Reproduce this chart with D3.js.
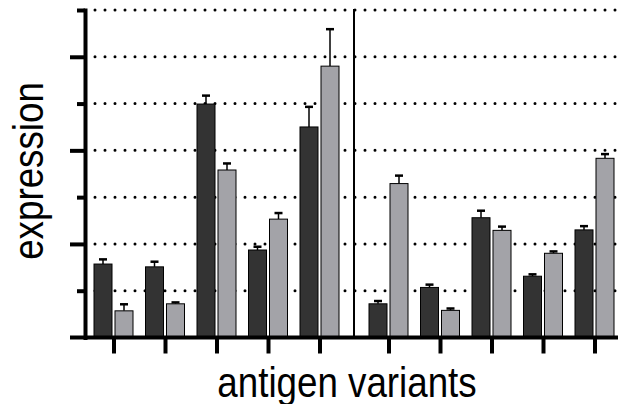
<!DOCTYPE html>
<html>
<head>
<meta charset="utf-8">
<script src="https://cdn.jsdelivr.net/npm/d3@7"></script>
<style>
    body { margin: 0; background: white; }
    svg { display: block; font-family: "Liberation Sans", Arial, sans-serif; }
</style>
</head>
<body>
<div id="chart"></div>
<script>
// Data (two panels, five variants each, two series).
const groups = ['panelA', 'panelB']
const variants = ['v1', 'v2', 'v3', 'v4', 'v5']
const series = ['dark', 'light']

const darkA = [1.57, 1.51, 4.99, 1.87, 4.50]
const darkAErr = [0.10, 0.11, 0.18, 0.07, 0.43]
const lightA = [0.57, 0.72, 3.58, 2.53, 5.80]
const lightAErr = [0.14, 0.03, 0.14, 0.13, 0.79]

const darkB = [0.72, 1.07, 2.56, 1.31, 2.30]
const darkBErr = [0.06, 0.06, 0.15, 0.04, 0.08]
const lightB = [3.29, 0.58, 2.29, 1.80, 3.83]
const lightBErr = [0.17, 0.04, 0.08, 0.04, 0.09]

const yTicks = [1, 2, 3, 4, 5, 6, 7]

class GroupedBarChart {
    constructor(_config) {
        this.config = {
            parentElement: _config.parentElement,
            containerWidth: _config.containerWidth,
            containerHeight: _config.containerHeight,
            axisX: 85,
            baseY: 337.5,
            topY: 10,
            panelRanges: [[113.5, 319.5], [388.5, 594.5]],
            barHalf: 19.5,
            colors: {dark: '#333333', light: '#a3a3a8'}
        }
        this.initVis()
    }

    initVis() {
        let vis = this
        const c = vis.config

        vis.svg = d3.select(c.parentElement)
            .append('svg')
            .attr('width', c.containerWidth)
            .attr('height', c.containerHeight)

        vis.y = d3.scaleLinear().domain([0, 7]).range([c.baseY, c.topY])

        // One point scale per panel, so there is a gap between the two panels.
        vis.xPanel = {}
        groups.forEach((g, i) => {
            vis.xPanel[g] = d3.scalePoint().domain(variants).range(c.panelRanges[i])
        })
        vis.xSub = d3.scaleBand().domain(series).range([-c.barHalf, c.barHalf]).paddingInner(3 / 21)

        vis.rows = []
        const table = {
            panelA: {dark: [darkA, darkAErr], light: [lightA, lightAErr]},
            panelB: {dark: [darkB, darkBErr], light: [lightB, lightBErr]}
        }
        groups.forEach(g => {
            variants.forEach((v, i) => {
                series.forEach(s => {
                    vis.rows.push({group: g, variant: v, series: s,
                        value: table[g][s][0][i], err: table[g][s][1][i]})
                })
            })
        })

        vis.renderVis()
    }

    renderVis() {
        let vis = this
        const c = vis.config
        const xOf = d => vis.xPanel[d.group](d.variant) + vis.xSub(d.series)

        // Dotted grid lines behind the bars.
        vis.svg.append('g')
            .selectAll('line')
            .data(yTicks)
            .join('line')
            .attr('x1', 95)
            .attr('x2', c.containerWidth + 10)
            .attr('y1', d => vis.y(d))
            .attr('y2', d => vis.y(d))
            .attr('stroke', 'black')
            .attr('stroke-width', 3)
            .attr('stroke-linecap', 'round')
            .attr('stroke-dasharray', '0 10')

        // Separator between the two panels.
        const sepX = (vis.xPanel.panelA.range()[1] + vis.xPanel.panelB.range()[0]) / 2
        vis.svg.append('line')
            .attr('x1', sepX).attr('x2', sepX)
            .attr('y1', vis.y(7) - 1).attr('y2', vis.y(0))
            .attr('stroke', 'black')
            .attr('stroke-width', 2)

        // Error bars (upper only).
        const err = vis.svg.append('g')
            .selectAll('g')
            .data(vis.rows)
            .join('g')
            .attr('transform', d => `translate(${xOf(d) + vis.xSub.bandwidth() / 2},0)`)
        err.append('line')
            .attr('y1', d => vis.y(d.value))
            .attr('y2', d => vis.y(d.value + d.err))
            .attr('stroke', 'black')
            .attr('stroke-width', 1.5)
        err.append('line')
            .attr('x1', -4).attr('x2', 4)
            .attr('y1', d => vis.y(d.value + d.err))
            .attr('y2', d => vis.y(d.value + d.err))
            .attr('stroke', 'black')
            .attr('stroke-width', 2.5)

        // Bars.
        vis.svg.append('g')
            .selectAll('rect')
            .data(vis.rows)
            .join('rect')
            .attr('x', d => xOf(d))
            .attr('width', vis.xSub.bandwidth())
            .attr('y', d => vis.y(d.value))
            .attr('height', d => vis.y(0) - vis.y(d.value))
            .attr('fill', d => c.colors[d.series])
            .attr('stroke', 'black')
            .attr('stroke-width', 1)

        // Y axis: long ticks on even values, short ones on odd values.
        const yAxis = vis.svg.append('g')
            .attr('transform', `translate(${c.axisX},0)`)
            .call(d3.axisLeft(vis.y).tickValues(yTicks).tickSize(15).tickSizeOuter(0).tickFormat(''))
        yAxis.select('.domain')
            .attr('stroke-width', 4)
            .attr('stroke-linecap', 'square')
        yAxis.selectAll('.tick line')
            .attr('stroke-width', 4)
            .attr('x2', d => d % 2 === 0 ? -15 : -8)

        // X axis baseline, running past the y axis on the left.
        vis.svg.append('line')
            .attr('x1', 70).attr('x2', c.containerWidth)
            .attr('y1', vis.y(0)).attr('y2', vis.y(0))
            .attr('stroke', 'black')
            .attr('stroke-width', 4)

        groups.forEach(g => {
            const xAxis = vis.svg.append('g')
                .attr('transform', `translate(0,${vis.y(0)})`)
                .call(d3.axisBottom(vis.xPanel[g]).tickSize(16).tickSizeOuter(0).tickFormat(''))
            xAxis.select('.domain').remove()
            xAxis.selectAll('.tick line').attr('stroke-width', 4)
        })

        // Axis titles (the original font is a bit narrower than Arial).
        vis.svg.append('text')
            .attr('transform', `translate(42.5,171) rotate(-90) scale(0.875,1)`)
            .attr('text-anchor', 'middle')
            .attr('font-size', 42)
            .text('expression')
        vis.svg.append('text')
            .attr('transform', `translate(347,396.5) scale(0.875,1)`)
            .attr('text-anchor', 'middle')
            .attr('font-size', 42)
            .text('antigen variants')
    }
}

new GroupedBarChart({parentElement: '#chart', containerWidth: 618, containerHeight: 404})
</script>
</body>
</html>
